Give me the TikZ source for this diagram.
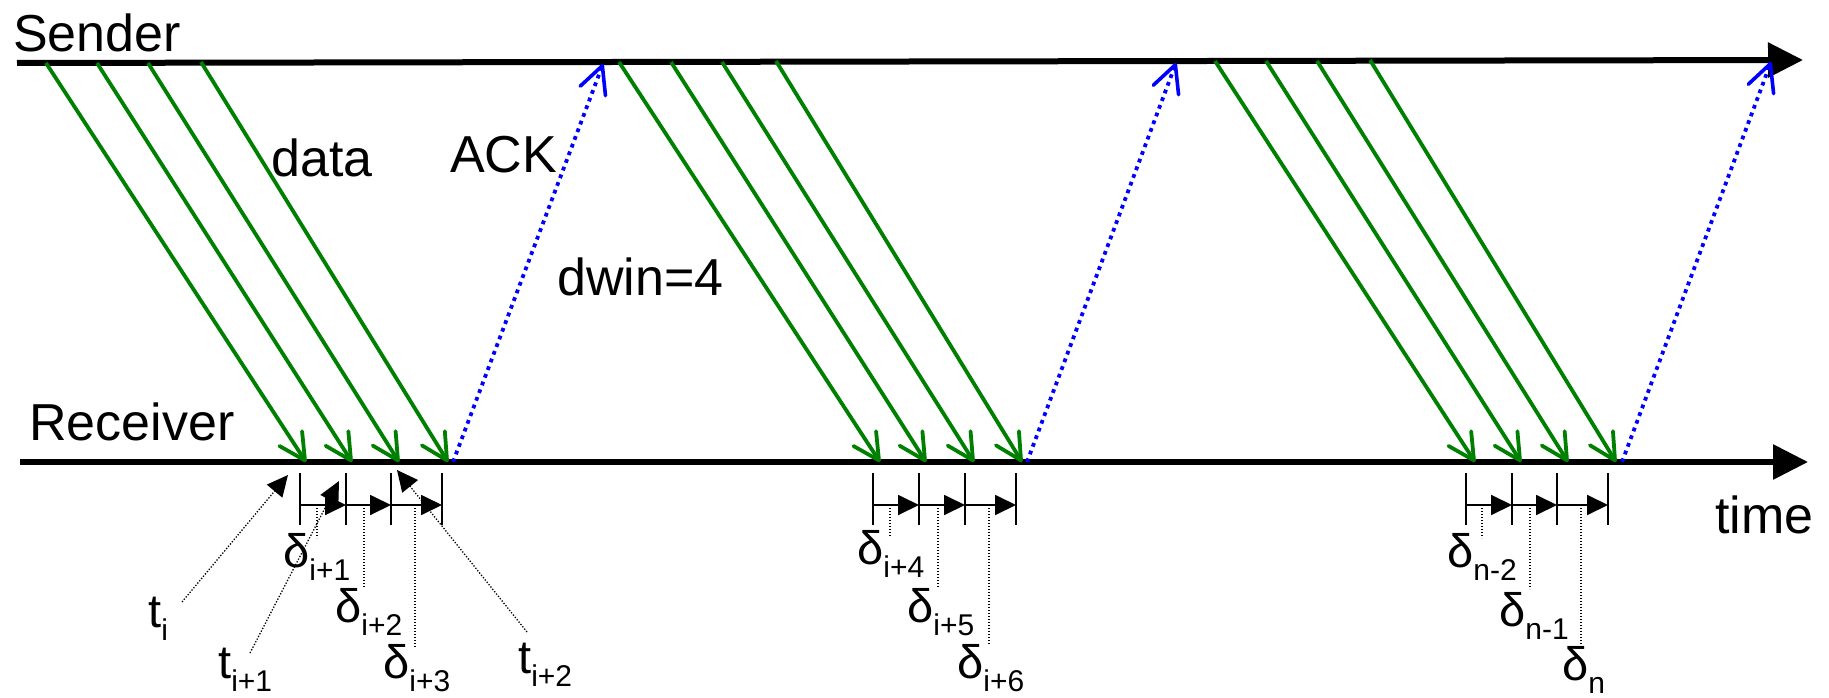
\documentclass[tikz,border=0pt]{standalone}
\usepackage{fontspec}
\setmainfont{Liberation Sans}
\usetikzlibrary{arrows.meta}
\definecolor{dgreen}{RGB}{0,128,0}
\definecolor{ackblue}{RGB}{0,0,255}
\newcommand{\sublbl}[2]{{\fontsize{47}{50}\selectfont #1\raisebox{-13pt}{\fontsize{30}{32}\selectfont #2}}}
\begin{document}
\begin{tikzpicture}[x=1pt,y=-1pt,
  axisline/.style={line width=6pt,-{Triangle[length=35pt,width=34pt]}},
  dataarr/.style={draw=dgreen,line width=3.8pt,-{Straight Barb[length=26pt,width=27pt,line width=3.8pt,round]}},
  ackarr/.style={draw=ackblue,line width=3.8pt,dash pattern=on 3.8pt off 4.4pt,-{Straight Barb[length=27pt,width=27pt,line width=3.6pt,round]}},
  tickline/.style={line width=1.8pt},
  gaparr/.style={line width=1.8pt,-{Triangle[length=21pt,width=20pt]}},
  leadline/.style={line width=1.3pt,dash pattern=on 1.3pt off 1.7pt},
  ptrarr/.style={line width=1.3pt,dash pattern=on 1.3pt off 1.7pt,-{Triangle[length=21pt,width=20pt]}},
  bigtxt/.style={inner sep=0pt,anchor=base west,font=\fontsize{52}{60}\selectfont},
  symtxt/.style={inner sep=0pt,anchor=base west}]
\useasboundingbox (0,0) rectangle (1829,698);

% axes
\coordinate (sA) at (17,63);
\coordinate (sB) at (1803,60);
\coordinate (rA) at (20,462);
\coordinate (rB) at (1808,462);
\draw[axisline] (sA) -- (sB);
\draw[axisline] (rA) -- (rB);

% texts
\node[bigtxt] (sender) at (13,52) {Sender};
\node[bigtxt] (receiver) at (29,440) {Receiver};
\node[bigtxt] (datalbl) at (271,177) {data};
\node[bigtxt] (acklbl) at (450,172) {ACK};
\node[bigtxt] (dwin) at (557,295) {dwin=4};
\node[bigtxt] (timelbl) at (1715,533) {time};

% data packets
\foreach \s/\e/\y [count=\k] in {46/306/63, 97/352/63, 148/399/63, 201/448/62,
    619/880/62, 671/926/62, 722/974/62, 776/1022/61,
    1215/1475/61, 1266/1521/61, 1317/1568/61, 1370/1616/60} {
  \coordinate (ds\k) at (\s,\y);
  \coordinate (de\k) at (\e,462);
  \draw[dataarr] (ds\k) -- (de\k);
}

% ACKs
\foreach \s/\e/\y [count=\k] in {453/603/64, 1027/1176/63, 1622/1771/62} {
  \coordinate (as\k) at (\s,462);
  \coordinate (ae\k) at (\e,\y);
  \draw[ackarr] (as\k) -- (ae\k);
}

% ticks
\foreach \x [count=\k] in {300,346,391,442,873,919,965,1016,1466,1512,1557,1608} {
  \coordinate (tt\k) at (\x,473);
  \coordinate (tb\k) at (\x,525);
  \coordinate (tm\k) at (\x,505);
  \draw[tickline] (tt\k) -- (tb\k);
}
\foreach \a/\b in {1/2,2/3,3/4,5/6,6/7,7/8,9/10,10/11,11/12} {
  \draw[gaparr] (tm\a) -- (tm\b);
}

% delta labels and leaders
\foreach \x/\y/\lx/\ly/\lb/\nm in {
   317/538/283/567/i+1/d1, 364/588/335/622/i+2/d2, 415/648/383/678/i+3/d3,
   890/537/857/564/i+4/d4, 938/587/907/622/i+5/d5, 989/645/957/678/i+6/d6,
   1482/538/1447/567/n-2/d7, 1530/589/1499/626/n-1/d8, 1581/648/1562/680/n/d9} {
  \node[symtxt] (\nm) at (\lx,\ly) {\sublbl{δ}{\lb}};
  \coordinate (\nm top) at (\x,505);
  \coordinate (\nm bot) at (\x,\y);
  \draw[leadline] (\nm top) -- (\nm bot);
}

% t labels and pointers
\node[symtxt] (ti) at (148,627) {\sublbl{t}{i}};
\node[symtxt] (tia) at (218,678) {\sublbl{t}{i+1}};
\node[symtxt] (tib) at (518,673) {\sublbl{t}{i+2}};
\coordinate (tiS) at (182,602);
\coordinate (tiE) at (288,475);
\coordinate (tiaS) at (250,653);
\coordinate (tiaE) at (339,481);
\coordinate (tibS) at (527,632);
\coordinate (tibE) at (397,470);
\draw[ptrarr] (tiS) -- (tiE);
\draw[ptrarr] (tiaS) -- (tiaE);
\draw[ptrarr] (tibS) -- (tibE);
\end{tikzpicture}
\end{document}
